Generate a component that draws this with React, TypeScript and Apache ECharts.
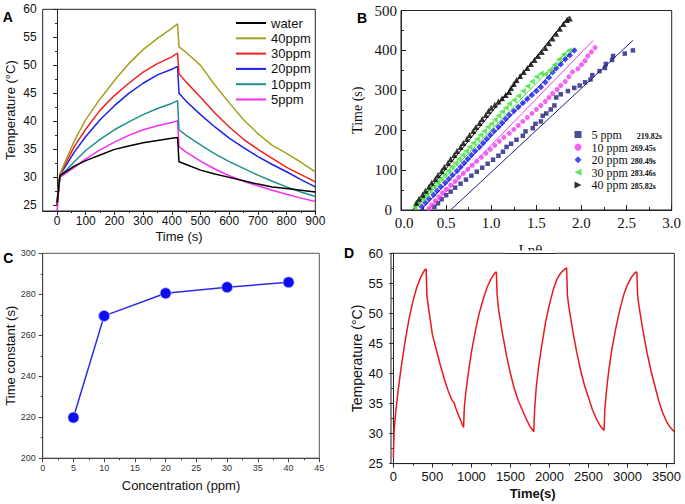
import React, { useEffect, useRef } from "react";
import * as echarts from "echarts";

// ---------- Panel A: heating / cooling curves ----------
const TIME_A = [0, 10, 30, 60, 100, 150, 200, 250, 300, 350, 400, 420, 425, 450, 500, 550, 600, 650, 700, 750, 800, 850, 900];
const WATER = [25.5, 30.3, 31.0, 32.0, 33.0, 34.0, 35.0, 35.6, 36.2, 36.6, 37.0, 37.1, 32.8, 32.3, 31.3, 30.6, 30.0, 29.4, 28.8, 28.3, 28.0, 27.7, 27.4];
const PPM40 = [26.0, 30.6, 33.0, 36.5, 40.3, 44.0, 47.3, 50.3, 52.8, 54.8, 56.6, 57.4, 53.3, 52.3, 50.0, 46.5, 43.3, 40.3, 37.8, 35.7, 34.3, 32.7, 31.0];
const PPM30 = [25.0, 30.5, 32.5, 35.5, 38.6, 42.0, 44.6, 46.8, 48.8, 50.3, 51.5, 52.2, 48.5, 47.0, 44.3, 41.5, 39.0, 36.8, 35.0, 33.4, 31.8, 30.5, 29.2];
const PPM20 = [25.0, 30.5, 32.0, 34.5, 37.3, 40.3, 42.8, 45.0, 46.8, 48.3, 49.3, 49.8, 45.0, 43.6, 41.2, 39.0, 37.0, 35.3, 33.7, 32.3, 31.0, 29.6, 28.3];
const PPM10 = [25.0, 30.3, 31.2, 32.8, 34.8, 36.8, 38.5, 39.9, 41.2, 42.3, 43.2, 43.7, 38.5, 37.5, 35.8, 34.2, 32.8, 31.6, 30.4, 29.3, 28.3, 27.4, 26.6];
const PPM5 = [24.0, 30.0, 30.7, 31.8, 33.3, 34.9, 36.3, 37.5, 38.5, 39.2, 39.8, 40.1, 35.5, 34.5, 32.9, 31.5, 30.3, 29.3, 28.5, 27.7, 27.0, 26.3, 25.7];
const A_NAMES = ["water", "40ppm", "30ppm", "20ppm", "10ppm", "5ppm"];
const A_VALUES = [WATER, PPM40, PPM30, PPM20, PPM10, PPM5];
const A_COLORS = ["#000000", "#a3a21f", "#f41f1f", "#1f1fe6", "#1f8f8c", "#f62ff2"];
const A_X_TICKS = [0, 100, 200, 300, 400, 500, 600, 700, 800, 900];
const A_X_MINOR = [50, 150, 250, 350, 450, 550, 650, 750, 850];
const A_Y_TICKS = [25, 30, 35, 40, 45, 50, 55, 60];
const A_Y_MINOR = [27.5, 32.5, 37.5, 42.5, 47.5, 52.5, 57.5];

// ---------- Panel B: -ln(theta) vs time ----------
const B_5PPM = [[0.37, 8], [0.41, 17], [0.45, 27], [0.5, 37], [0.55, 46], [0.6, 56], [0.66, 66], [0.72, 76], [0.78, 86], [0.84, 96], [0.9, 106], [0.96, 116], [1.02, 126], [1.08, 136], [1.13, 146], [1.17, 158], [1.22, 166], [1.28, 176], [1.35, 186], [1.38, 197], [1.46, 205], [1.49, 216], [1.55, 222], [1.57, 236], [1.61, 242], [1.66, 252], [1.7, 262], [1.72, 282], [1.77, 290], [1.85, 298], [1.92, 306], [1.98, 312], [2.04, 320], [2.1, 327], [2.12, 338], [2.2, 348], [2.26, 356], [2.27, 366], [2.34, 376], [2.35, 386], [2.48, 392], [2.57, 400]];
const B_10PPM = [[0.31, 4], [0.34, 13], [0.38, 23], [0.42, 33], [0.46, 43], [0.5, 52], [0.55, 62], [0.6, 72], [0.64, 82], [0.69, 92], [0.74, 102], [0.79, 112], [0.84, 122], [0.89, 132], [0.94, 142], [0.99, 152], [1.04, 162], [1.09, 172], [1.14, 182], [1.2, 192], [1.25, 202], [1.3, 212], [1.35, 222], [1.4, 232], [1.45, 242], [1.5, 252], [1.55, 262], [1.6, 272], [1.64, 282], [1.68, 292], [1.73, 302], [1.77, 312], [1.82, 322], [1.86, 334], [1.9, 346], [1.96, 354], [2.0, 364], [2.04, 374], [2.07, 386], [2.11, 396], [2.15, 407]];
const B_20PPM = [[0.23, 8], [0.27, 18], [0.31, 28], [0.36, 38], [0.4, 48], [0.44, 58], [0.49, 68], [0.53, 78], [0.57, 88], [0.62, 98], [0.66, 108], [0.7, 118], [0.74, 128], [0.78, 138], [0.82, 148], [0.87, 158], [0.91, 168], [0.95, 178], [0.99, 188], [1.03, 198], [1.08, 208], [1.12, 218], [1.16, 228], [1.2, 238], [1.25, 248], [1.3, 258], [1.35, 268], [1.4, 278], [1.45, 288], [1.5, 298], [1.55, 308], [1.6, 320], [1.64, 332], [1.68, 345], [1.72, 355], [1.77, 365], [1.82, 378], [1.87, 388], [1.92, 400]];
const B_30PPM = [[0.15, 8], [0.19, 18], [0.24, 28], [0.28, 38], [0.32, 48], [0.36, 58], [0.4, 68], [0.44, 78], [0.48, 88], [0.52, 98], [0.56, 108], [0.6, 118], [0.64, 128], [0.68, 138], [0.72, 148], [0.76, 158], [0.8, 168], [0.84, 178], [0.88, 188], [0.92, 198], [0.96, 208], [1.0, 216], [1.04, 226], [1.08, 236], [1.12, 246], [1.16, 256], [1.2, 266], [1.25, 276], [1.3, 286], [1.35, 298], [1.4, 310], [1.45, 322], [1.5, 334], [1.55, 342], [1.6, 340], [1.65, 350], [1.7, 364], [1.75, 378], [1.8, 390], [1.86, 400]];
const B_40PPM = [[0.17, 18], [0.2, 28], [0.24, 38], [0.27, 48], [0.31, 58], [0.34, 68], [0.38, 78], [0.41, 88], [0.45, 98], [0.48, 108], [0.52, 118], [0.55, 128], [0.59, 138], [0.62, 148], [0.66, 158], [0.69, 168], [0.73, 178], [0.76, 188], [0.8, 198], [0.83, 208], [0.87, 218], [0.9, 228], [0.94, 238], [0.97, 248], [1.0, 256], [1.04, 264], [1.08, 272], [1.12, 280], [1.16, 288], [1.2, 296], [1.22, 306], [1.25, 316], [1.28, 326], [1.32, 336], [1.36, 346], [1.4, 356], [1.44, 366], [1.48, 376], [1.52, 386], [1.56, 396], [1.6, 406], [1.64, 418], [1.68, 430], [1.72, 442], [1.76, 454], [1.8, 466], [1.84, 476], [1.87, 480]];
const B_NAMES = ["5 ppm", "10 ppm", "20 ppm", "30 ppm", "40 ppm"];
const B_TAU_TEXT = ["219.82s", "269.45s", "280.49s", "283.46s", "285.82s"];
const B_POINTS = [B_5PPM, B_10PPM, B_20PPM, B_30PPM, B_40PPM];
const B_FITS = [
  [[0.55, 0], [2.57, 425]],
  [[0.3, 0], [2.13, 425]],
  [[0.22, 0], [1.93, 405]],
  [[0.14, 0], [1.87, 404]],
  [[0.13, 0], [1.86, 485]],
];
const B_COLORS = ["#1e1e7e", "#f23cf0", "#1e1ef0", "#3ee03a", "#000000"];
const LEFT_TRI = "path://M10,0L0,5L10,10Z";
const RIGHT_TRI = "path://M0,0L10,5L0,10Z";
const B_SYMBOLS = ["rect", "circle", "diamond", LEFT_TRI, "triangle"];
const B_ICONS = ["rect", "circle", "diamond", LEFT_TRI, RIGHT_TRI];
const B_SIZES = [4.5, 5, 6.5, 6, 6];

// ---------- Panel C: time constant vs concentration ----------
const CONC = [5, 10, 20, 30, 40];
const TAU = [219.82, 269.45, 280.49, 283.46, 285.82];

// ---------- Panel D: cycling ----------
const TIME_D = [0, 10, 30, 60, 100, 150, 200, 250, 300, 350, 400, 420, 430, 450, 500, 550, 600, 650, 700, 750, 780, 800, 850, 900,
  910, 930, 960, 1000, 1050, 1100, 1150, 1200, 1250, 1300, 1320, 1330, 1350, 1400, 1450, 1500, 1550, 1600, 1650, 1700, 1750, 1800,
  1810, 1830, 1860, 1900, 1950, 2000, 2050, 2100, 2150, 2200, 2220, 2230, 2250, 2300, 2350, 2400, 2450, 2500, 2550, 2600, 2650, 2700,
  2710, 2730, 2760, 2800, 2850, 2900, 2950, 3000, 3050, 3100, 3120, 3130, 3150, 3200, 3250, 3300, 3350, 3400, 3450, 3500, 3550, 3600];
const TEMP_D = [26.0, 30.5, 33.5, 37.0, 41.0, 45.3, 49.0, 52.0, 54.3, 56.0, 57.2, 57.4, 53.0, 51.0, 46.5, 44.0, 41.5, 39.2, 37.2, 35.6, 35.1, 34.2, 32.6, 31.0,
  34.5, 37.0, 40.0, 43.5, 47.0, 50.0, 52.3, 54.3, 55.7, 56.7, 56.9, 53.0, 50.5, 46.5, 43.0, 40.0, 37.5, 35.5, 34.0, 32.5, 31.2, 30.3,
  34.0, 37.5, 41.0, 44.5, 48.5, 51.5, 54.0, 55.8, 56.8, 57.4, 57.6, 53.0, 51.0, 47.0, 43.5, 40.5, 38.0, 36.0, 34.0, 32.5, 31.3, 30.5,
  34.0, 37.0, 40.5, 44.0, 47.5, 50.5, 53.0, 54.8, 56.0, 56.8, 56.9, 53.0, 51.0, 47.0, 43.5, 40.5, 38.0, 35.5, 33.5, 32.0, 31.0, 30.3];
const D_X_TICKS = [0, 500, 1000, 1500, 2000, 2500, 3000, 3500];
const D_X_MINOR = [250, 750, 1250, 1750, 2250, 2750, 3250];

const SANS = "Liberation Sans";
const SERIF = "Liberation Serif";

const GRIDS = [
  { left: 42.7, top: 9.3, width: 272.6, height: 201.7 },
  { left: 401, top: 10.5, width: 270.7, height: 199.5 },
  { left: 42.7, top: 253.3, width: 276.6, height: 204.9 },
  { left: 391, top: 253.3, width: 283.3, height: 210.3 },
];

export default function App() {
  const ref = useRef<HTMLDivElement>(null);
  useEffect(() => {
    if (!ref.current) return;
    const chart = echarts.init(ref.current, null, { renderer: "svg" });

    const grid = [
      { ...GRIDS[0], show: true, borderColor: "#222", borderWidth: 1 },
      { ...GRIDS[1], show: true, borderColor: "#222", borderWidth: 1 },
      { ...GRIDS[2], show: true, borderColor: "#555", borderWidth: 1 },
      { ...GRIDS[3], show: true, borderColor: "#222", borderWidth: 1 },
      { ...GRIDS[0], show: false },
      { ...GRIDS[3], show: false },
    ];

    const lineCol = (c: string) => ({ lineStyle: { color: c, width: 1 } });
    const hidden = { show: false };
    const plain = (v: number) => String(v);
    const serifTick = { fontSize: 15, fontFamily: SERIF, color: "#111" };

    const xAxis: any[] = [
      {
        gridIndex: 0, type: "value", min: -50, max: 900,
        axisLine: lineCol("#222"),
        axisTick: { customValues: A_X_TICKS, length: 4, ...lineCol("#222") },
        axisLabel: { customValues: A_X_TICKS, color: "#111", fontSize: 12, fontFamily: SANS, margin: 4, formatter: plain },
        splitLine: hidden,
        name: "Time (s)", nameLocation: "middle", nameGap: 19,
        nameTextStyle: { color: "#111", fontSize: 13, fontFamily: SANS },
      },
      {
        gridIndex: 1, type: "value", min: 0, max: 3, interval: 0.5,
        axisLine: lineCol("#222"),
        axisTick: { inside: true, length: 5, ...lineCol("#222") },
        minorTick: { show: true, splitNumber: 2, length: 3, ...lineCol("#222") },
        axisLabel: {
          ...serifTick, margin: 5,
          formatter: (v: number) => (v === 0 ? "{z|0.0}" : v.toFixed(1)),
          rich: { z: { ...serifTick, padding: [0, 0, 0, 6] } },
        },
        splitLine: hidden,
      },
      {
        gridIndex: 2, type: "value", min: 0, max: 45, interval: 5,
        axisLine: lineCol("#444"),
        axisTick: { length: 4, ...lineCol("#444") },
        minorTick: { show: true, splitNumber: 2, length: 2, ...lineCol("#444") },
        axisLabel: { color: "#333", fontSize: 9, fontFamily: SANS, margin: 5 },
        splitLine: hidden,
        name: "Concentration (ppm)", nameLocation: "middle", nameGap: 21,
        nameTextStyle: { color: "#111", fontSize: 13, fontFamily: SANS },
      },
      {
        gridIndex: 3, type: "value", min: -30, max: 3600,
        axisLine: lineCol("#222"),
        axisTick: { customValues: D_X_TICKS, length: 4, ...lineCol("#222") },
        axisLabel: { customValues: D_X_TICKS, color: "#111", fontSize: 13, fontFamily: SANS, margin: 6, formatter: plain },
        splitLine: hidden,
        name: "Time(s)", nameLocation: "middle", nameGap: 23,
        nameTextStyle: { color: "#111", fontSize: 13, fontWeight: "bold", fontFamily: SANS },
      },
      {
        gridIndex: 4, type: "value", min: -50, max: 900,
        axisLine: hidden, axisLabel: hidden, splitLine: hidden,
        axisTick: { customValues: A_X_MINOR, length: 2, ...lineCol("#222") },
      },
      {
        gridIndex: 5, type: "value", min: -30, max: 3600,
        axisLine: hidden, axisLabel: hidden, splitLine: hidden,
        axisTick: { customValues: D_X_MINOR, length: 2, ...lineCol("#222") },
      },
    ];

    const yAxis: any[] = [
      {
        gridIndex: 0, type: "value", min: 24, max: 60,
        axisLine: lineCol("#222"),
        axisTick: { customValues: A_Y_TICKS, length: 4, ...lineCol("#222") },
        axisLabel: { customValues: A_Y_TICKS, color: "#111", fontSize: 12, fontFamily: SANS, margin: 6 },
        splitLine: hidden,
        name: "Temperature (°C)", nameLocation: "middle", nameGap: 26,
        nameTextStyle: { color: "#111", fontSize: 13, fontFamily: SANS },
      },
      {
        gridIndex: 1, type: "value", min: 0, max: 500, interval: 100,
        axisLine: lineCol("#222"),
        axisTick: { inside: true, length: 5, ...lineCol("#222") },
        minorTick: { show: true, splitNumber: 2, length: 3, ...lineCol("#222") },
        axisLabel: {
          ...serifTick, margin: 4,
          formatter: (v: number) => (v === 0 ? "{z|0}" : String(v)),
          rich: { z: { ...serifTick, padding: [0, 5, 0, 0] } },
        },
        splitLine: hidden,
        name: "Time (s)", nameLocation: "middle", nameGap: 37,
        nameTextStyle: { color: "#111", fontSize: 14, fontFamily: SERIF },
      },
      {
        gridIndex: 2, type: "value", min: 200, max: 300, interval: 20,
        axisLine: lineCol("#444"),
        axisTick: { length: 4, ...lineCol("#444") },
        minorTick: { show: true, splitNumber: 2, length: 2, ...lineCol("#444") },
        axisLabel: { color: "#333", fontSize: 9, fontFamily: SANS, margin: 7 },
        splitLine: hidden,
        name: "Time constant (s)", nameLocation: "middle", nameGap: 26,
        nameTextStyle: { color: "#111", fontSize: 13, fontFamily: SANS },
      },
      {
        gridIndex: 3, type: "value", min: 25, max: 60, interval: 5,
        axisLine: lineCol("#222"),
        axisTick: { length: 4, ...lineCol("#222") },
        minorTick: { show: true, splitNumber: 2, length: 2, ...lineCol("#222") },
        axisLabel: { color: "#111", fontSize: 13, fontFamily: SANS, margin: 8 },
        splitLine: hidden,
        name: "Temperature (°C)", nameLocation: "middle", nameGap: 27,
        nameTextStyle: { color: "#111", fontSize: 14, fontFamily: SANS },
      },
      {
        gridIndex: 4, type: "value", min: 24, max: 60,
        axisLine: hidden, axisLabel: hidden, splitLine: hidden,
        axisTick: { customValues: A_Y_MINOR, length: 2, ...lineCol("#222") },
      },
      {
        gridIndex: 5, type: "value", min: 25, max: 60, show: false,
      },
    ];

    const series: any[] = [];
    A_NAMES.forEach((name, i) => {
      series.push({
        name, type: "line", xAxisIndex: 0, yAxisIndex: 0,
        data: TIME_A.map((t, k) => [t, A_VALUES[i][k]]),
        symbol: "none", color: A_COLORS[i],
        lineStyle: { width: 1.5, color: A_COLORS[i] },
        z: 10 - i,
      });
    });
    B_NAMES.forEach((name, i) => {
      series.push({
        name: name + " fit", type: "line", xAxisIndex: 1, yAxisIndex: 1,
        data: B_FITS[i], symbol: "none",
        lineStyle: { width: 1, color: B_COLORS[i] }, z: 2,
      });
    });
    B_NAMES.forEach((name, i) => {
      series.push({
        name, type: "scatter", xAxisIndex: 1, yAxisIndex: 1,
        data: B_POINTS[i], symbol: B_SYMBOLS[i], symbolSize: B_SIZES[i],
        itemStyle: { color: B_COLORS[i] }, z: 3 + i,
      });
    });
    series.push({
      name: "tau", type: "line", xAxisIndex: 2, yAxisIndex: 2,
      data: CONC.map((c, i) => [c, TAU[i]]),
      symbol: "circle", symbolSize: 11,
      lineStyle: { width: 1.5, color: "#2a2ae0" },
      itemStyle: { color: "#0c0cf0", borderColor: "#b8b8ff", borderWidth: 0.8 },
    });
    series.push({
      name: "cycle", type: "line", xAxisIndex: 3, yAxisIndex: 3,
      data: TIME_D.map((t, k) => [t, TEMP_D[k]]),
      symbol: "none",
      lineStyle: { width: 1.5, color: "#e8181c" },
    });

    const letter = (t: string, x: number, y: number) => ({
      type: "text", x, y, z: 50,
      style: { text: t, fill: "#000", font: `bold 14px ${SANS}`, align: "left", verticalAlign: "middle", textAlign: "left", textVerticalAlign: "middle" },
    });

    chart.setOption({
      animation: false,
      backgroundColor: "#ffffff",
      grid,
      xAxis,
      yAxis,
      series,
      legend: [
        {
          data: A_NAMES.map((n) => ({ name: n, icon: "rect" })),
          orient: "vertical", left: 231, top: 11,
          itemWidth: 30, itemHeight: 2, itemGap: 1.3,
          textStyle: { fontSize: 13, fontFamily: SANS, color: "#111", lineHeight: 14 },
          selectedMode: false,
        },
        {
          data: B_NAMES.map((n, i) => ({ name: n, icon: B_ICONS[i] })),
          orient: "vertical", left: 569.5, top: 124,
          itemWidth: 7, itemHeight: 7, itemGap: 0.6,
          selectedMode: false,
          formatter: (name: string) => {
            const i = B_NAMES.indexOf(name);
            const pad = name.length < 6 ? "     " : " ";
            return `{n|${name}${pad}}{v|${B_TAU_TEXT[i]}}`;
          },
          textStyle: {
            color: "#111",
            rich: {
              n: { fontSize: 12, fontFamily: SERIF, color: "#111", lineHeight: 13, padding: [0, 0, 0, 5], verticalAlign: "bottom" },
              v: { fontSize: 8, fontWeight: "bold", fontFamily: SERIF, color: "#111", lineHeight: 13, verticalAlign: "bottom", padding: [0, 0, 1, 0] },
            },
          },
        },
      ],
      graphic: [
        letter("A", 2.7, 16.7),
        letter("B", 357, 17.7),
        letter("C", 3.3, 258.3),
        letter("D", 344, 253.3),
        {
          type: "text", x: 528, y: 250, z: 40,
          style: { text: "-Lnθ", fill: "#111", font: `15px ${SERIF}`, align: "center", verticalAlign: "middle", textAlign: "center", textVerticalAlign: "middle" },
        },
        { type: "rect", z: 45, shape: { x: 505, y: 250.5, width: 50, height: 10 }, style: { fill: "#ffffff" } },
        { type: "line", z: 46, shape: { x1: 505, y1: 253.5, x2: 555, y2: 253.5 }, style: { stroke: "#222", lineWidth: 1 } },
      ],
    });
    return () => chart.dispose();
  }, []);
  return (
    <div style={{ position: "fixed", left: 0, top: 0, width: 685, height: 504, background: "#fff" }}>
      <div ref={ref} style={{ width: 685, height: 504 }} />
    </div>
  );
}
